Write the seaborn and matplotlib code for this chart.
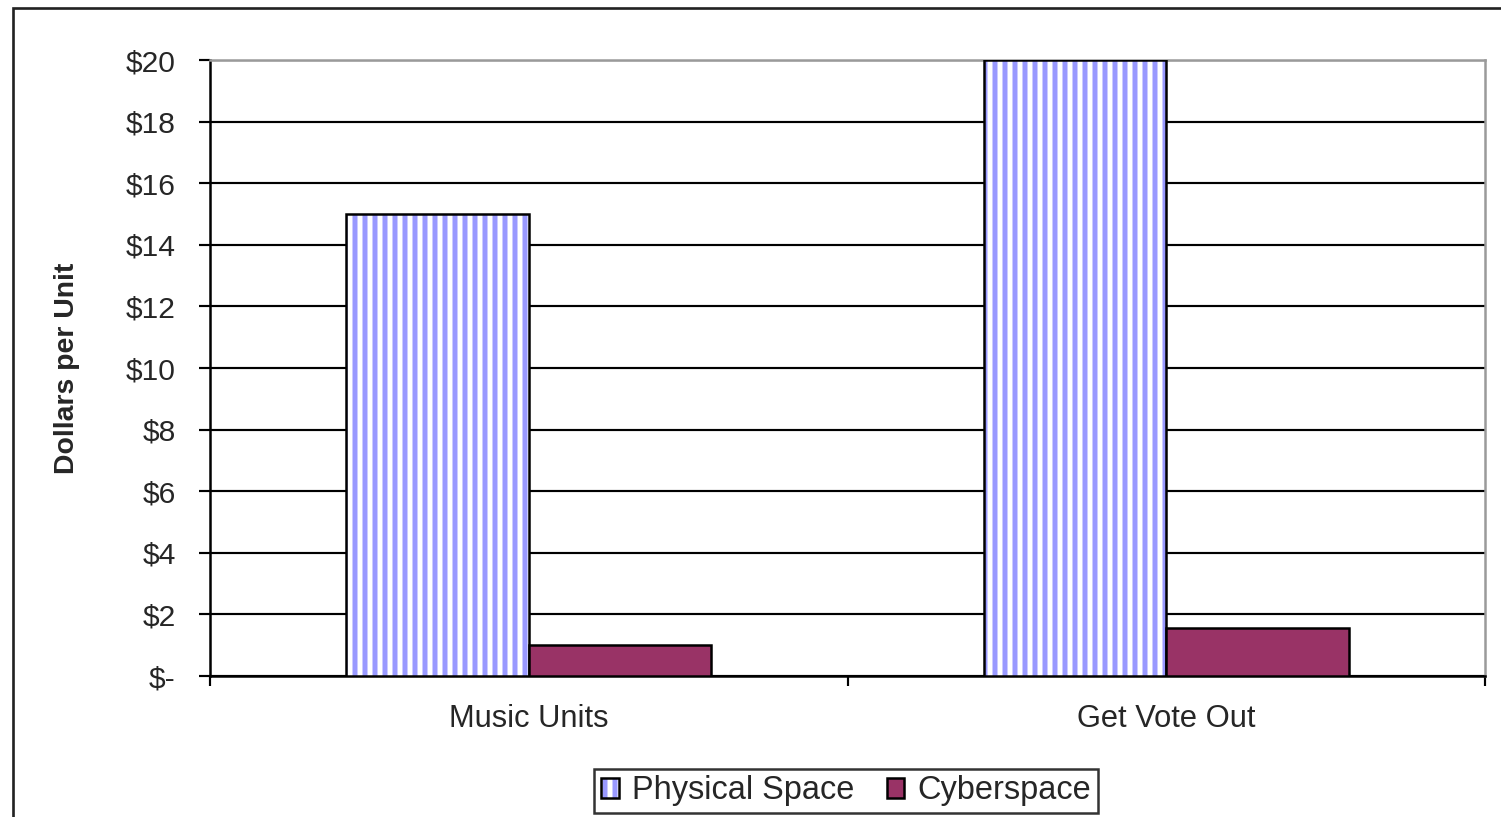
import matplotlib
matplotlib.use("Agg")
import matplotlib.pyplot as plt
import matplotlib.colors as mcolors
from matplotlib.patches import Rectangle
import seaborn as sns
import pandas as pd

# Cost per unit delivered, by channel
categories = ["Music Units", "Get Vote Out"]
series = ["Physical Space", "Cyberspace"]
physical_space = [15.0, 20.0]
cyberspace = [1.0, 1.55]
y_ticks = [0, 2, 4, 6, 8, 10, 12, 14, 16, 18, 20]
y_tick_labels = ["$-", "$2", "$4", "$6", "$8", "$10", "$12", "$14", "$16", "$18", "$20"]

df = pd.DataFrame({
    "category": categories * 2,
    "series": [series[0]] * len(categories) + [series[1]] * len(categories),
    "value": physical_space + cyberspace,
})

sns.set_theme(style="white")
plt.rcParams["font.family"] = ["Liberation Sans", "DejaVu Sans"]
plt.rcParams["hatch.linewidth"] = 3.0

DPI = 120
fig = plt.figure(figsize=(1501 / DPI, 817 / DPI), dpi=DPI)
fig.patch.set_facecolor("white")

# outer chart-area border (left and top edges visible)
fig.patches.append(Rectangle((13 / 1501, -0.2), 1.5, 1.2 - 8 / 817,
                             transform=fig.transFigure, fill=False,
                             edgecolor="#222222", linewidth=1.6, zorder=0))

ax = fig.add_axes([210 / 1501, (817 - 676) / 817, 1275 / 1501, 616 / 817])

sns.barplot(data=df, x="category", y="value", hue="series",
            palette=["white", "#993366"], width=0.572, saturation=1,
            edgecolor="black", linewidth=1.5, legend=False, ax=ax, zorder=3)

hatch_rgba = mcolors.to_rgba("#9999FF")
for bar in ax.containers[0]:
    bar.set_facecolor("white")
    bar.set_hatch("||")
    if hasattr(bar, "set_hatchcolor"):
        bar.set_hatchcolor(hatch_rgba)
    else:
        bar._hatch_color = hatch_rgba

ax.set_xlim(-0.5, len(categories) - 0.5)
ax.set_ylim(0, 20)
ax.set_yticks(y_ticks)
ax.set_yticklabels(y_tick_labels)
ax.yaxis.grid(True, color="black", linewidth=1.3, zorder=0)
ax.set_axisbelow(True)

ax.set_xlabel("")
ax.set_ylabel("Dollars per Unit", fontsize=17, fontweight="bold")
ax.yaxis.set_label_coords(-0.102, 0.5)

ax.tick_params(axis="y", which="major", direction="out", length=6.5, width=1.3,
               color="black", labelsize=18, pad=14, left=True)
ax.tick_params(axis="x", which="major", length=0, labelsize=18.5, pad=17)
ax.set_xticks([i - 0.5 for i in range(len(categories) + 1)], minor=True)
ax.tick_params(axis="x", which="minor", direction="out", length=6, width=1.3,
               color="black", bottom=True)

for side in ["left", "bottom"]:
    ax.spines[side].set_color("black")
    ax.spines[side].set_linewidth(1.5)
for side in ["top", "right"]:
    ax.spines[side].set_color("#9a9a9a")
    ax.spines[side].set_linewidth(1.5)

handles = [ax.containers[0][0], ax.containers[1][0]]
leg = ax.legend(handles, series, loc="center", ncol=2,
                bbox_to_anchor=(846 / 1501, 1 - 791 / 817),
                bbox_transform=fig.transFigure, fontsize=19.5, frameon=True,
                fancybox=False, handlelength=0.55, handleheight=0.55,
                handletextpad=0.4, columnspacing=1.0, borderpad=0.2,
                borderaxespad=0)
leg.get_frame().set_edgecolor("black")
leg.get_frame().set_linewidth(1.5)

fig.savefig("out.png", dpi=DPI, facecolor="white")
